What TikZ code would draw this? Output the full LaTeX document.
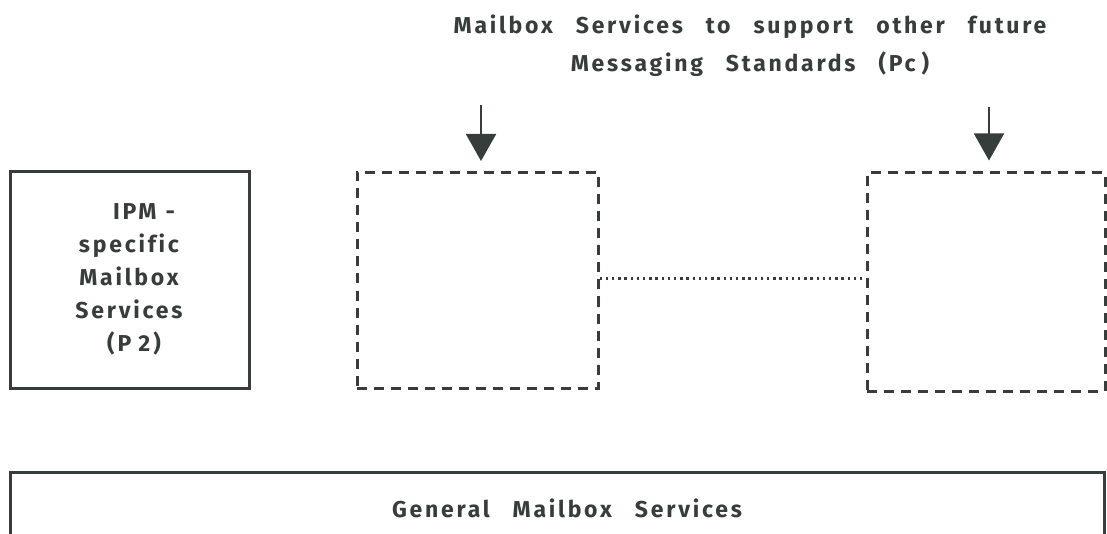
\documentclass[tikz,border=0pt]{standalone}
\usepackage{fontspec}
\setmainfont{Fira Sans}[LetterSpace=12, WordSpace=2.8, Ligatures=NoCommon]
\usetikzlibrary{arrows.meta}
\definecolor{ink}{HTML}{363D3A}
\tikzset{
  solidbox/.style={draw=ink, line width=3pt, inner sep=0pt},
  dashbox/.style={draw=ink, line width=3pt, dash pattern=on 10pt off 7pt, inner sep=0pt},
  label/.style={text=ink, font=\bfseries\fontsize{23}{33}\selectfont, align=center, inner sep=0pt},
  feed/.style={draw=ink, line width=2pt, -{Triangle[width=30pt,length=27pt]}},
  linkdots/.style={draw=ink, line width=2.5pt, dash pattern=on 2.4pt off 3.8pt}
}
\begin{document}
\begin{tikzpicture}[x=1pt,y=-1pt]
\useasboundingbox (0,0) rectangle (1107,534);
% heading
\node[label, font=\bfseries\fontsize{23}{38}\selectfont] (head) at (750,46) {Mailbox Services to support other future\\Messaging Standards (Pc\kern6pt)};
% IPM-specific box
\node[solidbox, minimum width=239pt, minimum height=216pt] (ipm) at (129.5,280) {};
\node[label] (ipmtext) at (129,279) {\hspace*{30pt}IPM\kern9pt-\\specific\\Mailbox\\Services\\\hspace*{10pt}(\kern3pt P\kern7pt2\kern3pt)};
% placeholder boxes for future standards
\node[dashbox, minimum width=241pt, minimum height=216pt] (pa) at (477.5,280.5) {};
\node[dashbox, minimum width=238pt, minimum height=218pt] (pb) at (986,282) {};
\draw[linkdots] ([yshift=2pt]pa.east) -- ([yshift=2pt]pb.west |- pa.east);
% incoming arrows
\coordinate (sa) at (481,105);
\coordinate (sb) at (989,107);
\draw[feed] (sa) -- ([yshift=10pt]pa.north -| sa);
\draw[feed] (sb) -- ([yshift=11pt]pb.north -| sb);
% general services
\node[solidbox, minimum width=1094pt, minimum height=64pt] (gen) at (557,504) {};
\node[label] (gentext) at (567,508) {General Mailbox Services};
\end{tikzpicture}
\end{document}
